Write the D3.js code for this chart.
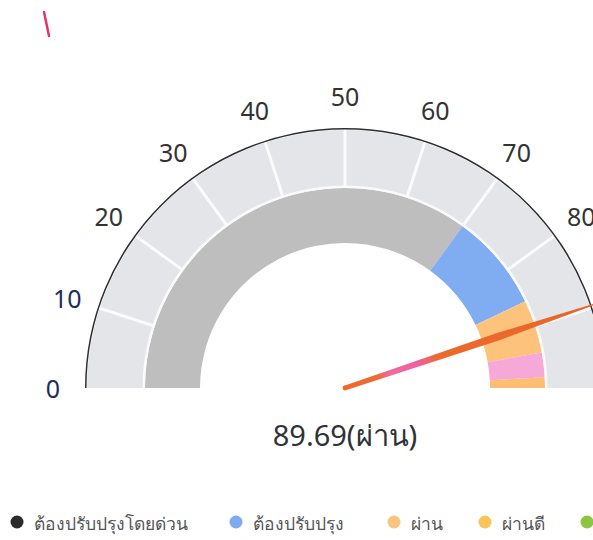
<!DOCTYPE html>
<html>
<head>
<meta charset="utf-8">
<script src="https://cdn.jsdelivr.net/npm/d3@7"></script>
<style>
body { margin: 0; background: #fff; }
svg { display: block; font-family: "Noto Sans", "Open Sans", sans-serif; }
</style>
</head>
<body>
<script>
var tickValues = [0, 10, 20, 30, 40, 50, 60, 70, 80, 90, 100];
var bandStarts = [0, 70, 85.7, 94.3, 98.3];
var bandEnds = [70, 85.7, 94.3, 98.3, 100];
var bandColors = ["#bebebe", "#80acf2", "#fdc27c", "#f6a9d9", "#fdbd72"];
var gaugeValue = 89.69;
var gaugeLabel = "ผ่าน";
var legendNames = ["ต้องปรับปรุงโดยด่วน", "ต้องปรับปรุง", "ผ่าน", "ผ่านดี", ""];
var legendColors = ["#2b2b2b", "#7faaf3", "#fcc47e", "#f9c45a", "#8cc63f"];
var legendX = [17, 236, 394, 485, 587];

var w = 593,
    h = 540,
    cx = 345,
    cy = 388;

var angle = d3.scaleLinear().domain([0, 100]).range([-Math.PI / 2, Math.PI / 2]);

function pt(v, r) {
    var a = angle(v);
    return [cx + r * Math.sin(a), cy - r * Math.cos(a)];
}

var svg = d3.select("body").append("svg")
    .attr("width", w)
    .attr("height", h);

// stray mark top-left
svg.append("line")
    .attr("x1", 44).attr("y1", 12)
    .attr("x2", 49).attr("y2", 36)
    .attr("stroke", "#e0356e")
    .attr("stroke-width", 2.5)
    .attr("stroke-linecap", "round");

var g = svg.append("g").attr("transform", "translate(" + cx + "," + cy + ")");

// outer light band
g.append("path")
    .attr("d", d3.arc()({ innerRadius: 202, outerRadius: 258, startAngle: angle(0), endAngle: angle(100) }))
    .attr("fill", "#e3e5e8");

// inner value band
g.selectAll(".band")
    .data(bandStarts)
    .enter()
    .append("path")
    .attr("class", "band")
    .attr("d", function(d, i) {
        return d3.arc()({ innerRadius: 145, outerRadius: 200, startAngle: angle(d), endAngle: angle(bandEnds[i]) });
    })
    .attr("fill", function(d, i) { return bandColors[i]; });

// white ring between bands
g.append("path")
    .attr("d", d3.arc()({ innerRadius: 200, outerRadius: 202.5, startAngle: angle(0), endAngle: angle(100) }))
    .attr("fill", "#fafafa");

// separators in outer band
svg.selectAll(".sep")
    .data(tickValues.slice(1, -1))
    .enter()
    .append("line")
    .attr("class", "sep")
    .attr("x1", function(d) { return pt(d, 201)[0]; })
    .attr("y1", function(d) { return pt(d, 201)[1]; })
    .attr("x2", function(d) { return pt(d, 258)[0]; })
    .attr("y2", function(d) { return pt(d, 258)[1]; })
    .attr("stroke", "#fbfbfb")
    .attr("stroke-width", 3);

// axis line
g.append("path")
    .attr("d", d3.arc()({ innerRadius: 258.5, outerRadius: 260, startAngle: angle(0), endAngle: angle(100) }))
    .attr("fill", "#2e2e2e");

// tick labels (90 and 100 fall outside the view, as in the original)
svg.selectAll(".tick")
    .data(tickValues.filter(function(d) { return d <= 80; }))
    .enter()
    .append("text")
    .attr("class", "tick")
    .attr("x", function(d) { return pt(d, 292)[0]; })
    .attr("y", function(d) { return pt(d, 292)[1]; })
    .attr("text-anchor", "middle")
    .attr("dominant-baseline", "central")
    .attr("font-size", 25)
    .attr("fill", function(d) { return d < 20 ? "#1d2d5e" : "#333"; })
    .text(function(d) { return d; });

// needle
var defs = svg.append("defs");
var len = 268;
var tip = pt(gaugeValue, len);
var grad = defs.append("linearGradient")
    .attr("id", "needleGrad")
    .attr("gradientUnits", "userSpaceOnUse")
    .attr("x1", cx).attr("y1", cy)
    .attr("x2", tip[0]).attr("y2", tip[1]);
[[0, "#ee6a28"], [0.13, "#ef6a3a"], [0.18, "#f06aa0"], [0.29, "#f0609a"], [0.37, "#ec6a2c"], [1, "#ea6428"]]
    .forEach(function(s) {
        grad.append("stop").attr("offset", s[0]).attr("stop-color", s[1]);
    });
var nAng = angle(gaugeValue);
var nx = Math.sin(nAng), ny = -Math.cos(nAng);
var px = -ny, py = nx;
function np(t, half) {
    return [cx + nx * len * t + px * half, cy + ny * len * t + py * half];
}
var needlePts = [np(0, 2.4), np(0.6, 3.8), np(1, 0.6), np(1, -0.6), np(0.6, -3.8), np(0, -2.4)];
svg.append("path")
    .attr("d", d3.line().curve(d3.curveLinearClosed)(needlePts))
    .attr("fill", "url(#needleGrad)");
svg.append("circle")
    .attr("cx", cx).attr("cy", cy)
    .attr("r", 2.4)
    .attr("fill", "#ee6a28");

// value label
svg.append("text")
    .attr("x", cx)
    .attr("y", 446)
    .attr("text-anchor", "middle")
    .attr("font-size", 29)
    .attr("fill", "#2f3236")
    .text(gaugeValue + "(" + gaugeLabel + ")");

// legend
var legend = svg.append("g").attr("class", "legend");
legend.selectAll("circle")
    .data(legendNames)
    .enter()
    .append("circle")
    .attr("cx", function(d, i) { return legendX[i]; })
    .attr("cy", 522)
    .attr("r", 6.5)
    .attr("fill", function(d, i) { return legendColors[i]; });
legend.selectAll("text")
    .data(legendNames)
    .enter()
    .append("text")
    .attr("x", function(d, i) { return legendX[i] + 17; })
    .attr("y", 530)
    .attr("font-size", 17.5)
    .attr("fill", "#555")
    .text(function(d) { return d; });
</script>
</body>
</html>
